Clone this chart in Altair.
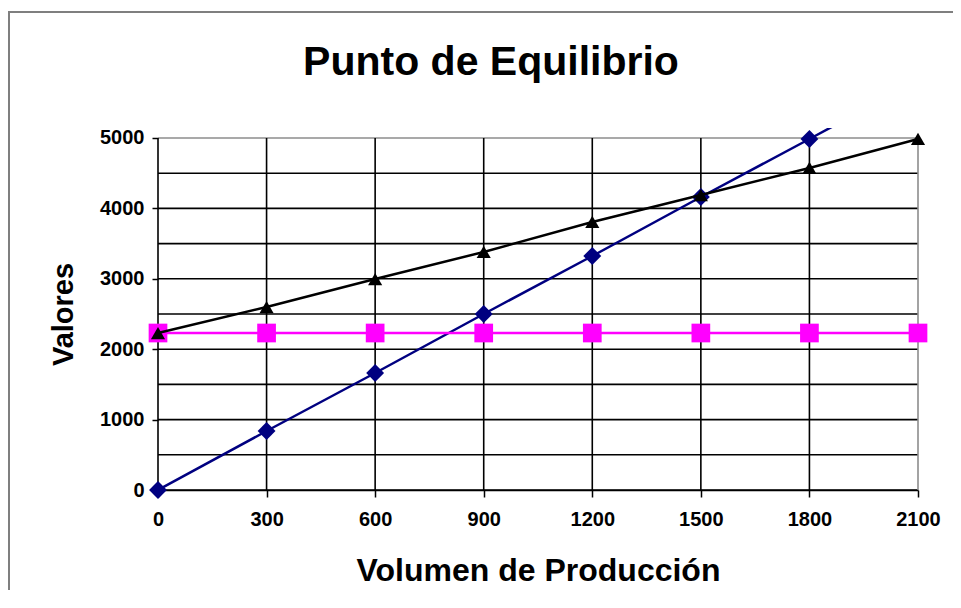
import altair as alt
import pandas as pd

# ---- data ----
volumen = [0, 300, 600, 900, 1200, 1500, 1800, 2100]
ventas = [0, 838, 1662, 2500, 3324, 4162, 4986, 5817]
costo_fijo = [2230, 2230, 2230, 2230, 2230, 2230, 2230, 2230]
costo_total = [2230, 2599, 2997, 3381, 3807, 4190, 4574, 4986]

x_ticks = [0, 300, 600, 900, 1200, 1500, 1800, 2100]
y_ticks = [0, 500, 1000, 1500, 2000, 2500, 3000, 3500, 4000, 4500, 5000]

FONT = "Liberation Sans"
NAVY = "#000080"
MAGENTA = "#FF00FF"

df = pd.DataFrame({"q": volumen, "ventas": ventas, "fijo": costo_fijo, "total": costo_total})
hgrid = pd.DataFrame({"v": [t for t in y_ticks if t < max(y_ticks)]})
hgrid_top = pd.DataFrame({"v": [max(y_ticks)]})
vgrid = pd.DataFrame({"v": [t for t in x_ticks if t < max(x_ticks)]})
vgrid_end = pd.DataFrame({"v": [max(x_ticks)]})

xsc = alt.Scale(domain=[0, 2100], nice=False, zero=False)
ysc = alt.Scale(domain=[0, 5142], nice=False, zero=False)

xaxis = alt.Axis(values=x_ticks, format="d", grid=False, domain=True, domainColor="black", domainWidth=1.5,
                 ticks=True, tickColor="black", tickWidth=1.5, tickSize=7,
                 labelFont=FONT, labelFontSize=20, labelFontWeight="bold", labelColor="black",
                 labelPadding=12, labelFlush=False,
                 titleFont=FONT, titleFontSize=32, titleFontWeight="bold", titleColor="black",
                 titleBaseline="alphabetic", titleY=90)
yaxis = alt.Axis(values=y_ticks, format="d", grid=False, domain=False,
                 ticks=True, tickColor="black", tickWidth=1.5, tickSize=6,
                 labelFont=FONT, labelFontSize=20, labelFontWeight="bold", labelColor="black",
                 labelPadding=8, labelFlush=False,
                 titleFont=FONT, titleFontSize=29, titleFontWeight="bold", titleColor="black",
                 titleBaseline="alphabetic", titleAngle=270, titleAlign="center",
                 titleX=-86, titleY=186)

XT = "Volumen de Producción"
YT = "Valores"

base = alt.Chart(df)

h_black = alt.Chart(hgrid).mark_rule(color="black", strokeWidth=1.6).encode(
    y=alt.Y("v:Q", scale=ysc, axis=yaxis, title=YT), x=alt.datum(0), x2=alt.datum(2100))
h_gray = alt.Chart(hgrid_top).mark_rule(color="#8c8c8c", strokeWidth=1.6).encode(
    y=alt.Y("v:Q", scale=ysc, axis=yaxis, title=YT), x=alt.datum(0), x2=alt.datum(2100))
v_black = alt.Chart(vgrid).mark_rule(color="black", strokeWidth=1.6).encode(
    x=alt.X("v:Q", scale=xsc, axis=xaxis, title=XT), y=alt.datum(0), y2=alt.datum(5000))
v_gray = alt.Chart(vgrid_end).mark_rule(color="#8c8c8c", strokeWidth=1.6).encode(
    x=alt.X("v:Q", scale=xsc, axis=xaxis, title=XT), y=alt.datum(0), y2=alt.datum(5000))

# chart-area frame (only left and top edges are visible in the reference), as thin filled bars
frame_top = alt.Chart(hgrid_top).mark_rect(color="#7f7f7f", strokeWidth=0).encode(
    x=alt.value(-150), x2=alt.value(795), y=alt.value(-117), y2=alt.value(-115))
frame_left = alt.Chart(hgrid_top).mark_rect(color="#7f7f7f", strokeWidth=0).encode(
    x=alt.value(-150), x2=alt.value(-148), y=alt.value(-117), y2=alt.value(462))

X = alt.X("q:Q", scale=xsc, axis=xaxis, title=XT)

ventas_line = base.mark_line(color=NAVY, strokeWidth=2.5, clip=True).encode(
    x=X, y=alt.Y("ventas:Q", scale=ysc, axis=yaxis, title=YT))
ventas_pts = base.mark_point(shape="diamond", size=320, filled=True, color=NAVY, opacity=1).encode(
    x=X, y=alt.Y("ventas:Q", scale=ysc, axis=yaxis, title=YT)
).transform_filter(alt.datum.ventas <= 5000)

fijo_line = base.mark_line(color=MAGENTA, strokeWidth=2.5).encode(
    x=X, y=alt.Y("fijo:Q", scale=ysc, axis=yaxis, title=YT))
fijo_pts = base.mark_point(shape="square", size=350, filled=True, color=MAGENTA, opacity=1).encode(
    x=X, y=alt.Y("fijo:Q", scale=ysc, axis=yaxis, title=YT))

total_line = base.mark_line(color="black", strokeWidth=2.5).encode(
    x=X, y=alt.Y("total:Q", scale=ysc, axis=yaxis, title=YT))
total_pts = base.mark_point(shape="triangle-up", size=200, filled=True, color="black", opacity=1).encode(
    x=X, y=alt.Y("total:Q", scale=ysc, axis=yaxis, title=YT))

chart = alt.layer(
    h_black, h_gray, v_black, v_gray, frame_top, frame_left,
    ventas_line, ventas_pts, fijo_line, fijo_pts, total_line, total_pts
).properties(
    width=760, height=362,
    title=alt.TitleParams("Punto de Equilibrio", font=FONT, fontSize=41, fontWeight="bold",
                          color="black", anchor="middle", dx=-47, offset=-73),
    autosize=alt.AutoSizeParams(type="none"),
    padding={"left": 150, "top": 120, "right": 35, "bottom": 100},
    background="white",
).configure_view(stroke=None)

chart.save("out.html", embed_options={"renderer": "svg", "actions": False})
